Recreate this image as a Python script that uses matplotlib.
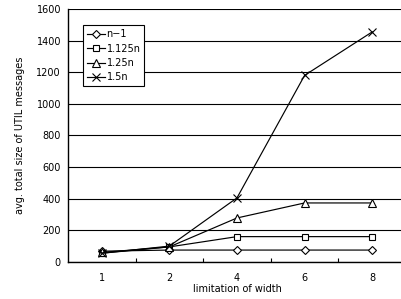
import matplotlib.pyplot as plt
import numpy as np

widths = ["1", "2", "4", "6", "8"]
series_names = ["n\u22121", "1.125n", "1.25n", "1.5n"]
n_minus_1 = [68, 75, 75, 75, 75]
n_1125 = [55, 95, 160, 160, 160]
n_125 = [60, 95, 278, 373, 373]
n_15 = [55, 100, 405, 1180, 1455]

plt.rcParams['font.family'] = ['DejaVu Sans']

fig = plt.figure(figsize=(4.02, 2.99), dpi=100)
ax = fig.add_axes([0.169, 0.124, 0.841, 0.846])

x = np.arange(len(widths))
styles = [("D", 4), ("s", 5), ("^", 5.5), ("x", 6)]
for vals, name, (m, ms) in zip([n_minus_1, n_1125, n_125, n_15], series_names, styles):
    ax.plot(x, vals, color="black", lw=0.85, marker=m, markersize=ms,
            markerfacecolor="white", markeredgecolor="black", markeredgewidth=0.8,
            label=name)

ax.set_xlim(-0.5, 4.5)
ax.set_ylim(0, 1600)
ax.set_yticks(np.arange(0, 1601, 200))
ax.set_xticks(x)
ax.set_xticklabels(widths)
ax.set_xticks(np.arange(0.5, 4, 1), minor=True)
ax.tick_params(axis="x", which="major", length=0, labelsize=7, pad=8)
ax.tick_params(axis="x", which="minor", direction="in", length=3, width=0.8)
ax.tick_params(axis="y", length=0, labelsize=7, pad=5)
ax.yaxis.grid(True, color="black", lw=0.8)
ax.set_axisbelow(True)
for s in ["top", "right"]:
    ax.spines[s].set_visible(False)
for s in ["left", "bottom"]:
    ax.spines[s].set_linewidth(1)

ax.set_xlabel("limitation of width", fontsize=7, labelpad=1)
ax.set_ylabel("avg. total size of UTIL messages", fontsize=7, labelpad=8)

leg = ax.legend(loc="upper left", bbox_to_anchor=(0.045, 0.935), fontsize=7,
                fancybox=False, framealpha=1, edgecolor="black",
                handlelength=1.8, handletextpad=0.2, borderpad=0.4,
                labelspacing=0.45, borderaxespad=0)
leg.get_frame().set_linewidth(0.8)

fig.savefig("out.png", dpi=100)
